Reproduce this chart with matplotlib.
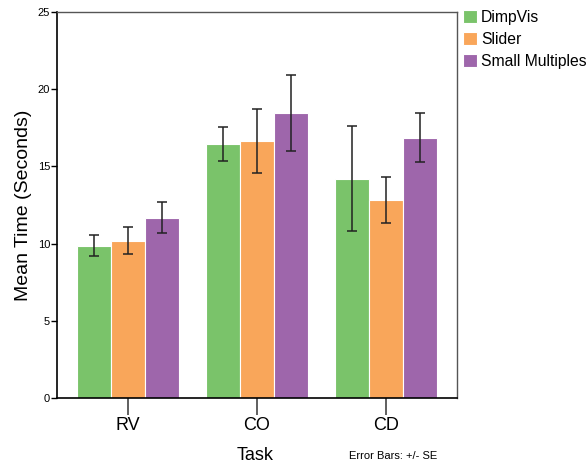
import numpy as np
import matplotlib.pyplot as plt

plt.rcParams['font.family'] = ['Liberation Sans', 'DejaVu Sans']

tasks = ["RV", "CO", "CD"]
series = ["DimpVis", "Slider", "Small Multiples"]
colors = ["#7AC36A", "#F9A65A", "#9E66AB"]

dimpvis = [9.85, 16.45, 14.2]
slider = [10.2, 16.65, 12.8]
small_mult = [11.68, 18.46, 16.85]

dimpvis_se = [0.68, 1.09, 3.4]
slider_se = [0.87, 2.08, 1.49]
small_mult_se = [0.99, 2.49, 1.58]

means = [dimpvis, slider, small_mult]
errs = [dimpvis_se, slider_se, small_mult_se]

fig = plt.figure(figsize=(5.87, 4.68), dpi=100)
ax = fig.add_axes([57 / 587, 70 / 468, 400 / 587, 386 / 468])

x = np.arange(len(tasks))
w = 0.262
for i in range(3):
	ax.bar(x + (i - 1) * w, means[i], w, color=colors[i], edgecolor="white",
		linewidth=0.8, label=series[i], zorder=2)
	ax.errorbar(x + (i - 1) * w, means[i], yerr=errs[i], fmt="none",
		ecolor="#222222", elinewidth=1.1, capsize=3.3, capthick=1.1, zorder=3)

ax.set_xlim(-0.55, 2.55)
ax.set_ylim(0, 25)
ax.set_yticks([0, 5, 10, 15, 20, 25])
ax.set_xticks(x)
ax.set_xticklabels(tasks, fontsize=13)
ax.tick_params(axis="x", length=12, width=1.2, color="#444444", pad=2)
ax.tick_params(axis="y", length=4, width=1, labelsize=8, pad=1)

for s in ["left", "bottom"]:
	ax.spines[s].set_color("black")
	ax.spines[s].set_linewidth(1.2)
for s in ["top", "right"]:
	ax.spines[s].set_color("#555555")
	ax.spines[s].set_linewidth(1.0)

ax.set_ylabel("Mean Time (Seconds)", fontsize=14, labelpad=4)
fig.text(255 / 587, 1 - 456 / 468, "Task", fontsize=13, ha="center", va="center")
fig.text(349 / 587, 1 - 456 / 468, "Error Bars: +/- SE", fontsize=8, ha="left", va="center")

ax.legend(loc="upper left", bbox_to_anchor=(463 / 587, 1 - 10 / 468),
	bbox_transform=fig.transFigure, frameon=False, fontsize=11.3,
	handlelength=0.9, handleheight=0.9, handletextpad=0.25, labelspacing=0.45,
	borderaxespad=0, borderpad=0)

fig.savefig("out.png", dpi=100)
